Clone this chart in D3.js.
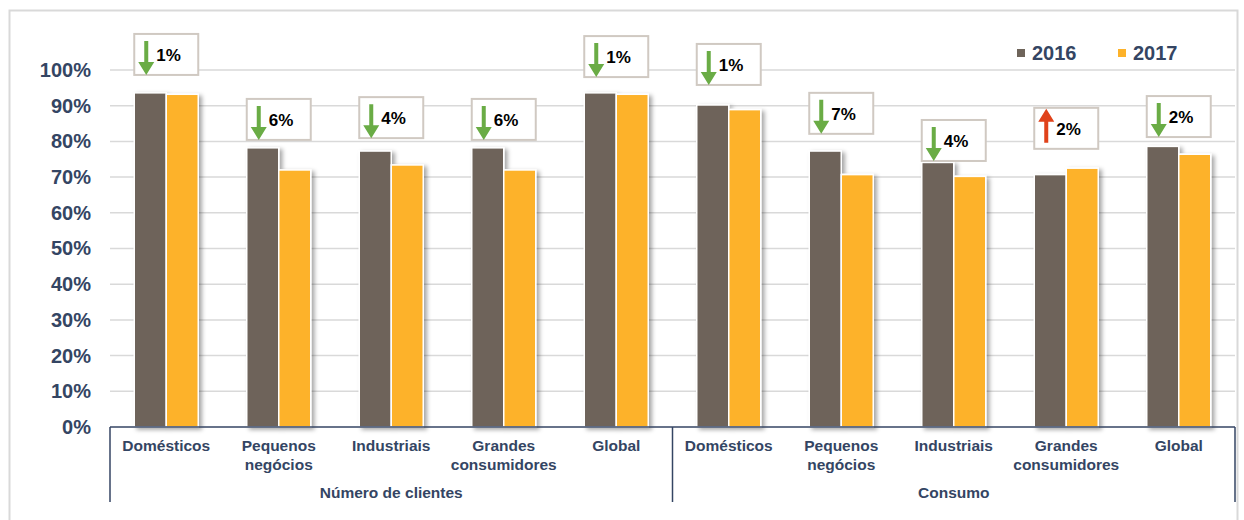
<!DOCTYPE html>
<html>
<head>
<meta charset="utf-8">
<script src="https://cdn.jsdelivr.net/npm/d3@7"></script>
<style>
  body { margin: 0; background: #fff; }
  text { font-family: "Liberation Sans", Arial, sans-serif; }
</style>
</head>
<body>
<svg id="chart"></svg>
<script>
const groups = ["Número de clientes", "Consumo"];
const categories = ["Domésticos", "Pequenos negócios", "Industriais", "Grandes consumidores", "Global"];
const years = ["2016", "2017"];
const clientes2016 = [93.6, 78.2, 77.3, 78.2, 93.6];
const clientes2017 = [93.2, 72.0, 73.4, 72.0, 93.2];
const consumo2016 = [90.2, 77.3, 74.1, 70.7, 78.6];
const consumo2017 = [88.9, 70.7, 70.2, 72.5, 76.4];
const clientesChange = [-1, -6, -4, -6, -1];
const consumoChange = [-1, -7, -4, 2, -2];
// top of each callout box, in axis units (%)
const clientesCallout = [110.1, 91.9, 92.4, 91.9, 109.5];
const consumoCallout = [107.3, 93.6, 86.0, 89.4, 92.7];
const yTicks = [0, 10, 20, 30, 40, 50, 60, 70, 80, 90, 100];

const width = 1244;
const height = 520;
const plotLeft = 110;
const plotRight = 1235;
const plotTop = 70;
const plotBottom = 427;

const colors = { "2016": "#6e645a", "2017": "#fdb22a" };
const navy = "#344563";

const rows = [];
categories.forEach((c, i) => rows.push({ key: "a" + i, group: 0, name: c, v: [clientes2016[i], clientes2017[i]], change: clientesChange[i], callout: clientesCallout[i] }));
categories.forEach((c, i) => rows.push({ key: "b" + i, group: 1, name: c, v: [consumo2016[i], consumo2017[i]], change: consumoChange[i], callout: consumoCallout[i] }));

const svg = d3.select("#chart").attr("width", width).attr("height", height);

const defs = svg.append("defs");
const f = defs.append("filter").attr("id", "shadow").attr("x", "-20%").attr("y", "-20%").attr("width", "160%").attr("height", "140%");
f.append("feDropShadow").attr("dx", 3).attr("dy", 2).attr("stdDeviation", 2)
  .attr("flood-color", "#000").attr("flood-opacity", 0.35);

svg.append("rect")
  .attr("x", 9.5).attr("y", 10.5).attr("width", 1228).attr("height", 520)
  .attr("fill", "#fff").attr("stroke", "#d9d9d9").attr("stroke-width", 2);

const x0 = d3.scaleBand().domain(rows.map((d) => d.key)).range([plotLeft, plotRight]);
const x1 = d3.scaleBand().domain(years).range([0, 64]);
const y = d3.scaleLinear().domain([0, 100]).range([plotBottom, plotTop]);
const barStart = (d) => x0(d.key) + (x0.bandwidth() - 64) / 2;

// gridlines
svg.append("g")
  .selectAll("line")
  .data(yTicks.filter((t) => t > 0))
  .enter()
  .append("line")
  .attr("x1", plotLeft).attr("x2", plotRight)
  .attr("y1", (d) => y(d)).attr("y2", (d) => y(d))
  .attr("stroke", "#d9d9d9").attr("stroke-width", 1.5);

const yAxis = d3.axisLeft(y).tickValues(yTicks).tickFormat((d) => d + "%").tickSize(0).tickPadding(19);
svg.append("g")
  .attr("transform", `translate(${plotLeft}, 0)`)
  .call(yAxis)
  .call((g) => g.select(".domain").remove())
  .selectAll("text")
  .attr("fill", navy)
  .style("font-size", "20px")
  .style("font-weight", "bold");

// bars
const bars = svg.append("g").attr("filter", "url(#shadow)");
rows.forEach((d) => {
  years.forEach((yr, j) => {
    bars.append("rect")
      .attr("x", barStart(d) + x1(yr))
      .attr("y", y(d.v[j]))
      .attr("width", x1.bandwidth())
      .attr("height", y(0) - y(d.v[j]))
      .attr("fill", colors[yr])
      .attr("stroke", "#fff")
      .attr("stroke-width", 1.5);
  });
});

// axis lines
svg.append("line")
  .attr("x1", plotLeft).attr("x2", plotRight).attr("y1", plotBottom).attr("y2", plotBottom)
  .attr("stroke", navy).attr("stroke-width", 1.5);
[plotLeft, (plotLeft + plotRight) / 2, plotRight].forEach((xv) => {
  svg.append("line")
    .attr("x1", xv).attr("x2", xv).attr("y1", plotBottom).attr("y2", 502)
    .attr("stroke", navy).attr("stroke-width", 1.5);
});

// category labels
const cat = svg.append("g")
  .selectAll("text")
  .data(rows)
  .enter()
  .append("text")
  .attr("text-anchor", "middle")
  .attr("fill", navy)
  .style("font-size", "15.5px")
  .style("font-weight", "bold");
cat.each(function (d) {
  const parts = d.name.split(" ");
  parts.forEach((p, k) => {
    d3.select(this).append("tspan")
      .attr("x", x0(d.key) + x0.bandwidth() / 2)
      .attr("y", 451 + k * 19)
      .text(p);
  });
});

// group labels
svg.append("g")
  .selectAll("text")
  .data(groups)
  .enter()
  .append("text")
  .attr("x", (d, i) => plotLeft + (plotRight - plotLeft) / 4 * (1 + 2 * i))
  .attr("y", 498)
  .attr("text-anchor", "middle")
  .attr("fill", navy)
  .style("font-size", "15.5px")
  .style("font-weight", "bold")
  .text((d) => d);

// callouts
const call = svg.append("g")
  .selectAll("g")
  .data(rows)
  .enter()
  .append("g")
  .attr("transform", (d) => `translate(${x0(d.key) + x0.bandwidth() / 2 - 32}, ${y(d.callout)})`);
call.append("rect")
  .attr("width", 64).attr("height", 41)
  .attr("fill", "#fff").attr("stroke", "#d0c9c2").attr("stroke-width", 2);
call.append("path")
  .attr("d", (d) => d.change < 0
    ? "M10,7 h4 v21 h6 l-8,13 l-8,-13 h6 z"
    : "M10,35 h4 v-21 h6 l-8,-13 l-8,13 h6 z")
  .attr("fill", (d) => (d.change < 0 ? "#6aac45" : "#e0421a"));
call.append("text")
  .attr("x", 22).attr("y", 27)
  .attr("fill", "#000")
  .style("font-size", "17px")
  .style("font-weight", "bold")
  .text((d) => Math.abs(d.change) + "%");

// legend
const legend = svg.append("g")
  .selectAll("g")
  .data(years)
  .enter()
  .append("g")
  .attr("transform", (d, i) => `translate(${1017 + i * 101}, 49)`);
legend.append("rect").attr("width", 8).attr("height", 8).attr("fill", (d) => colors[d]);
legend.append("text")
  .attr("x", 15).attr("y", 11)
  .attr("fill", navy)
  .style("font-size", "20px")
  .style("font-weight", "bold")
  .text((d) => d);
</script>
</body>
</html>
